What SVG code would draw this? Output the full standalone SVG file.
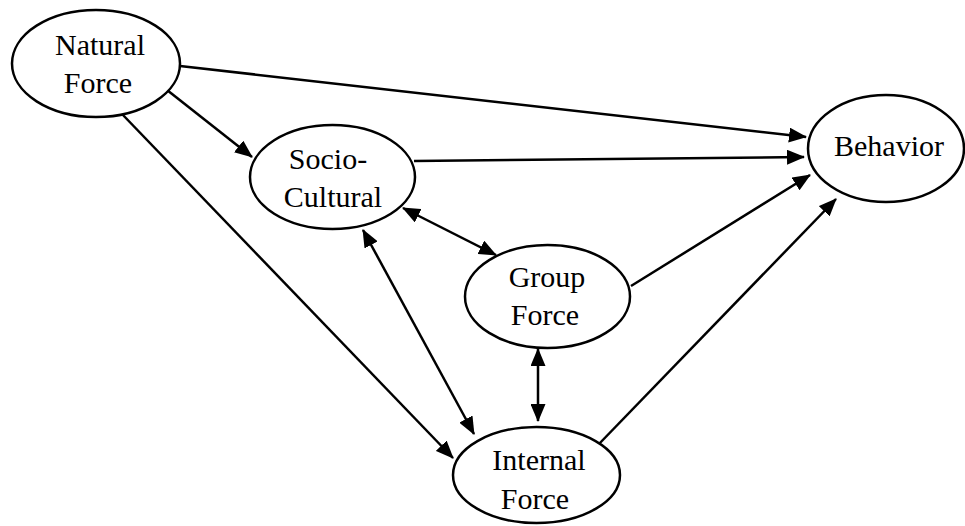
<svg xmlns="http://www.w3.org/2000/svg" width="965" height="526" viewBox="0 0 965 526">
<defs>
<marker id="ah" markerUnits="userSpaceOnUse" markerWidth="18" markerHeight="15" refX="17" refY="7.5" orient="auto-start-reverse" viewBox="0 0 18 15">
<path d="M0,0 L18,7.5 L0,15 z" fill="#000"/>
</marker>
<style>
.n{fill:#fff;stroke:#000;stroke-width:2.5}
.t{font-family:"Liberation Serif","Times New Roman",serif;font-size:30px;fill:#000;text-anchor:middle}
.c line{stroke:#000;stroke-width:2.5;fill:none}
</style>
</defs>
<rect width="965" height="526" fill="#fff"/>
<g id="connectors" class="c">
<line x1="180" y1="66" x2="806" y2="137" marker-end="url(#ah)"/>
<line x1="167" y1="90" x2="252" y2="157" marker-end="url(#ah)"/>
<line x1="122" y1="114" x2="453" y2="458" marker-end="url(#ah)"/>
<line x1="414" y1="161" x2="804" y2="157" marker-end="url(#ah)"/>
<line x1="631" y1="286" x2="810" y2="175" marker-end="url(#ah)"/>
<line x1="598" y1="445" x2="836" y2="199" marker-end="url(#ah)"/>
<line x1="403" y1="208" x2="496" y2="255" marker-start="url(#ah)" marker-end="url(#ah)"/>
<line x1="363" y1="230" x2="474" y2="434" marker-start="url(#ah)" marker-end="url(#ah)"/>
<line x1="538" y1="349" x2="538" y2="421" marker-start="url(#ah)" marker-end="url(#ah)"/>
</g>
<g id="natural">
<ellipse class="n" cx="96" cy="63.5" rx="84" ry="53.5"/>
<text class="t" x="100" y="55">Natural</text>
<text class="t" x="98" y="93">Force</text>
</g>
<g id="socio">
<ellipse class="n" cx="332.5" cy="177" rx="82.5" ry="52"/>
<text class="t" x="328" y="169">Socio-</text>
<text class="t" x="333" y="207">Cultural</text>
</g>
<g id="group">
<ellipse class="n" cx="547.5" cy="296.5" rx="82.5" ry="51.5"/>
<text class="t" x="547" y="287">Group</text>
<text class="t" x="545" y="325">Force</text>
</g>
<g id="internal">
<ellipse class="n" cx="536.5" cy="475" rx="83.5" ry="48"/>
<text class="t" x="539" y="470">Internal</text>
<text class="t" x="535" y="509">Force</text>
</g>
<g id="behavior">
<ellipse class="n" cx="886" cy="148.5" rx="78" ry="53.5"/>
<text class="t" x="889" y="156">Behavior</text>
</g>
</svg>
